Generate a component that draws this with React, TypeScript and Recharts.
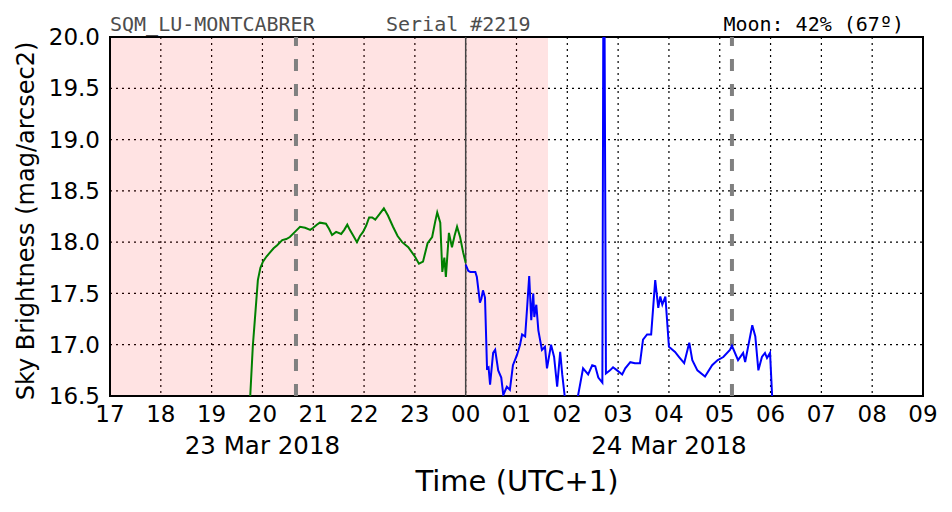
import { LineChart, Line, XAxis, YAxis, CartesianGrid, ReferenceLine, ReferenceArea } from 'recharts';

// hours since 00:00 of 23 Mar 2018 (UTC+1)
const greenTimes = [19.70, 19.76, 19.81, 19.85, 19.91, 19.96, 20.01, 20.08, 20.15, 20.22, 20.29, 20.39, 20.47, 20.54, 20.64, 20.74, 20.84, 20.94, 21.00, 21.07, 21.13, 21.25, 21.31, 21.37, 21.45, 21.55, 21.61, 21.67, 21.72, 21.78, 21.86, 21.92, 21.98, 22.04, 22.10, 22.16, 22.22, 22.30, 22.39, 22.47, 22.57, 22.66, 22.75, 22.87, 23.00, 23.08, 23.16, 23.25, 23.34, 23.40, 23.44, 23.50, 23.54, 23.58, 23.61, 23.67, 23.73, 23.78, 23.83, 23.89, 23.95, 24.00];
const greenValues = [16.2, 16.5, 16.98, 17.24, 17.63, 17.75, 17.81, 17.86, 17.90, 17.94, 17.97, 18.02, 18.03, 18.05, 18.10, 18.15, 18.14, 18.12, 18.14, 18.17, 18.19, 18.18, 18.13, 18.07, 18.10, 18.08, 18.12, 18.17, 18.12, 18.07, 18.00, 18.06, 18.10, 18.16, 18.24, 18.24, 18.22, 18.27, 18.33, 18.26, 18.15, 18.06, 18.00, 17.95, 17.86, 17.79, 17.81, 17.99, 18.05, 18.20, 18.29, 18.19, 17.71, 17.85, 17.66, 18.09, 17.95, 18.06, 18.15, 18.05, 17.90, 17.80];

const blueTimes = [24.00, 24.05, 24.09, 24.19, 24.22, 24.28, 24.31, 24.34, 24.38, 24.42, 24.45, 24.48, 24.54, 24.58, 24.64, 24.70, 24.74, 24.81, 24.87, 24.93, 25.01, 25.07, 25.11, 25.17, 25.21, 25.25, 25.29, 25.33, 25.35, 25.39, 25.43, 25.50, 25.56, 25.60, 25.68, 25.74, 25.80, 25.86, 25.90, 25.96, 26.05, 26.17, 26.21, 26.31, 26.36, 26.41, 26.49, 26.55, 26.61, 26.69, 26.71, 26.73, 26.76, 26.84, 26.90, 26.98, 27.08, 27.14, 27.24, 27.33, 27.43, 27.49, 27.57, 27.65, 27.73, 27.79, 27.83, 27.87, 27.93, 28.00, 28.12, 28.20, 28.30, 28.40, 28.46, 28.56, 28.71, 28.85, 28.96, 29.07, 29.20, 29.24, 29.36, 29.46, 29.50, 29.64, 29.70, 29.76, 29.83, 29.89, 29.93, 29.99, 30.05];
const blueValues = [17.78, 17.72, 17.71, 17.71, 17.66, 17.41, 17.45, 17.53, 17.46, 16.77, 16.78, 16.61, 16.92, 16.95, 16.75, 16.68, 16.51, 16.59, 16.56, 16.80, 16.90, 17.00, 17.10, 17.08, 17.37, 17.67, 17.24, 17.50, 17.27, 17.39, 17.14, 16.95, 16.98, 16.77, 17.00, 16.88, 16.59, 16.93, 16.71, 16.45, 16.30, 16.40, 16.50, 16.77, 16.74, 16.71, 16.80, 16.79, 16.68, 16.63, 20.5, 20.5, 16.72, 16.75, 16.78, 16.75, 16.71, 16.77, 16.83, 16.82, 16.82, 17.05, 17.10, 17.10, 17.63, 17.36, 17.47, 17.39, 17.47, 16.98, 16.93, 16.88, 16.82, 17.02, 16.85, 16.75, 16.69, 16.80, 16.85, 16.88, 16.95, 16.99, 16.85, 16.92, 16.83, 17.19, 17.08, 16.75, 16.88, 16.92, 16.87, 16.92, 16.30];

const xTicks = [17, 18, 19, 20, 21, 22, 23, 24, 25, 26, 27, 28, 29, 30, 31, 32, 33];
const yTicks = [16.5, 17.0, 17.5, 18.0, 18.5, 19.0, 19.5, 20.0];
const dateLabels: Record<number, string> = { 20: '23 Mar 2018', 28: '24 Mar 2018' };

const nightStart = 17;
const nightEnd = 25.62;
const moonMarks = [20.66, 29.24];
const midnight = 24;

const greenData = greenTimes.map((t, i) => ({ t, v: greenValues[i] }));
const blueData = blueTimes.map((t, i) => ({ t, v: blueValues[i] }));

const FONT = '"DejaVu Sans", sans-serif';
const MONO = '"DejaVu Sans Mono", monospace';

function HourTick(props: any) {
    const { x, y, payload } = props;
    const h = payload.value % 24;
    const label = String(h).padStart(2, '0');
    return (
        <g>
            <text x={x} y={y + 24} textAnchor="middle" fontSize={23} fontFamily={FONT} fill="#000">
                {label}
            </text>
            {dateLabels[payload.value] && (
                <text x={x} y={y + 56} textAnchor="middle" fontSize={24.5} fontFamily={FONT} fill="#000">
                    {dateLabels[payload.value]}
                </text>
            )}
        </g>
    );
}

export default function App() {
    return (
        <div style={{ position: 'absolute', left: 0, top: 0, width: 952, height: 512, background: '#fff' }}>
            <LineChart width={952} height={512} margin={{ top: 37, right: 29, bottom: 36, left: 0 }}>
                <ReferenceArea x1={nightStart} x2={nightEnd} y1={16.5} y2={20} fill="#ff0000" fillOpacity={0.11} stroke="none" />
                <CartesianGrid stroke="#000" strokeDasharray="2 4" strokeWidth={1.2} />
                <XAxis
                    type="number"
                    dataKey="t"
                    domain={[17, 33]}
                    ticks={xTicks}
                    allowDataOverflow
                    height={80}
                    tickSize={0}
                    tickLine={false}
                    axisLine={false}
                    interval={0}
                    tick={<HourTick />}
                />
                <YAxis
                    type="number"
                    dataKey="v"
                    domain={[16.5, 20]}
                    ticks={yTicks}
                    allowDataOverflow
                    width={110}
                    tickSize={0}
                    tickMargin={10}
                    tickLine={false}
                    axisLine={false}
                    interval={0}
                    tickFormatter={(v: number) => v.toFixed(1)}
                    tick={{ fontSize: 23, fontFamily: FONT, fill: '#000' }}
                />
                <ReferenceLine x={midnight} stroke="#444" strokeWidth={1.5} />
                {moonMarks.map((m) => (
                    <ReferenceLine key={m} x={m} stroke="#808080" strokeWidth={4} strokeDasharray="12 13" />
                ))}
                <Line data={greenData} dataKey="v" type="linear" stroke="#008000" strokeWidth={2} dot={false} isAnimationActive={false} />
                <Line data={blueData} dataKey="v" type="linear" stroke="#0000ff" strokeWidth={2} dot={false} isAnimationActive={false} />
                <ReferenceArea x1={17} x2={33} y1={16.5} y2={20} fill="none" stroke="#000" strokeWidth={2} />
            </LineChart>
            <svg width={952} height={512} style={{ position: 'absolute', left: 0, top: 0, pointerEvents: 'none' }}>
                <text x={110} y={31} fontSize={20} fontFamily={MONO} fill="#4d4d4d">SQM_LU-MONTCABRER</text>
                <text x={386} y={31} fontSize={20} fontFamily={MONO} fill="#4d4d4d">Serial #2219</text>
                <text x={904} y={31} textAnchor="end" fontSize={20} fontFamily={MONO} fill="#000">Moon: 42% (67º)</text>
                <text
                    x={0}
                    y={0}
                    transform="translate(26 221) rotate(-90)"
                    textAnchor="middle"
                    dominantBaseline="central"
                    fontSize={24}
                    fontFamily={FONT}
                    fill="#000"
                >
                    Sky Brightness (mag/arcsec2)
                </text>
                <text x={517} y={491} textAnchor="middle" fontSize={29} fontFamily={FONT} fill="#000">Time (UTC+1)</text>
            </svg>
        </div>
    );
}
